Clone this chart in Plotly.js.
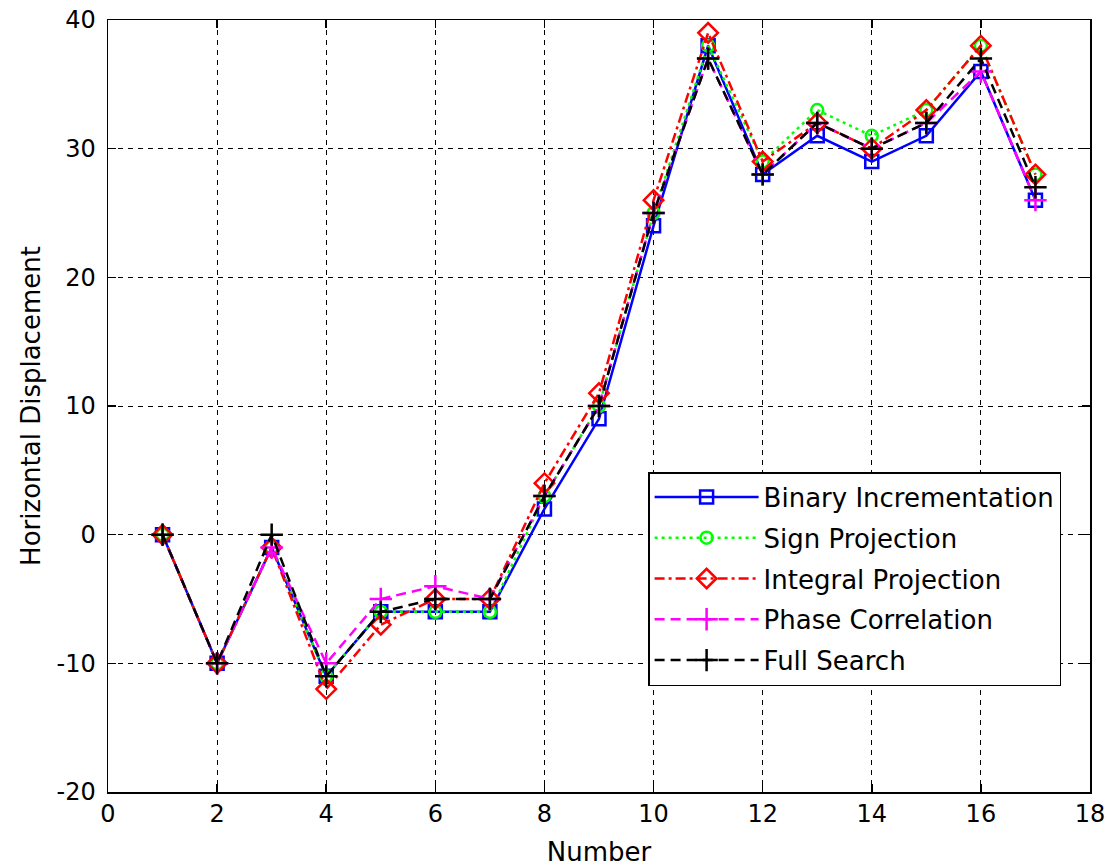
<!DOCTYPE html>
<html>
<head>
<meta charset="utf-8">
<script src="https://cdn.plot.ly/plotly-3.0.1.min.js"></script>
<style>
  html, body { margin: 0; padding: 0; background: #fff; }
  #chart { width: 1109px; height: 867px; }
</style>
</head>
<body>
<div id="chart"></div>
<script>
// Frame index of each measurement
const frameNumber = [1, 2, 3, 4, 5, 6, 7, 8, 9, 10, 11, 12, 13, 14, 15, 16, 17];

// Horizontal displacement estimated by each method
const binaryIncrementation = [0, -10, -1, -11, -6, -6, -6, 2, 9, 24, 38, 28, 31, 29, 31, 36, 26];
const signProjection       = [0, -10, -1, -11, -6, -6, -6, 3, 10, 25, 38, 29, 33, 31, 33, 38, 28];
const integralProjection   = [0, -10, -1, -12, -7, -5, -5, 4, 11, 26, 39, 29, 32, 30, 33, 38, 28];
const phaseCorrelation     = [0, -10, -1, -10, -5, -4, -5, 3, 10, 25, 37, 28, 32, 30, 32, 36, 26];
const fullSearch           = [0, -10, 0, -11, -6, -5, -5, 3, 10, 25, 37, 28, 32, 30, 32, 37, 27];

const seriesNames = ['Binary Incrementation', 'Sign Projection', 'Integral Projection', 'Phase Correlation', 'Full Search'];

// Axis ticks (plain hyphen for negatives)
const xTickValues = [0, 2, 4, 6, 8, 10, 12, 14, 16, 18];
const xTickLabels = ['0', '2', '4', '6', '8', '10', '12', '14', '16', '18'];
const yTickValues = [-20, -10, 0, 10, 20, 30, 40];
const yTickLabels = ['-20', '-10', '0', '10', '20', '30', '40'];

const FONT = 'DejaVu Sans, Arial, sans-serif';

function series(name, y, color, dash, symbol, size, group) {
  return {
    type: 'scatter',
    mode: 'lines+markers',
    name: name,
    x: frameNumber,
    y: y,
    legendgroup: group,
    line: { color: color, width: 2.5, dash: dash },
    marker: { symbol: symbol, size: size, color: color, line: { color: color, width: 2.5 } }
  };
}

const traces = [
  series(seriesNames[0], binaryIncrementation, '#0000ff', 'solid', 'square-open', 13, 'a'),
  series(seriesNames[1], signProjection, '#00ff00', '3px,4px', 'circle-open', 12, 'b'),
  series(seriesNames[2], integralProjection, '#ff0000', '10px,4px,3px,4px', 'diamond-open', 15, 'c'),
  series(seriesNames[3], phaseCorrelation, '#ff00ff', '10px,6px', 'cross-thin-open', 16, 'd'),
  series(seriesNames[4], fullSearch, '#000000', '10px,6px', 'cross-thin-open', 16, 'e')
];

const axisCommon = {
  showgrid: true,
  gridcolor: '#000000',
  gridwidth: 1,
  griddash: '5px,5px',
  showline: true,
  linecolor: '#000000',
  linewidth: 1.5,
  mirror: 'ticks',
  ticks: 'inside',
  ticklen: 8,
  tickwidth: 1.5,
  tickcolor: '#000000',
  zeroline: false,
  tickmode: 'array',
  tickfont: { family: FONT, size: 24, color: '#000000' }
};

const layout = {
  width: 1109,
  height: 867,
  margin: { l: 108, r: 19, t: 20, b: 75 },
  paper_bgcolor: '#ffffff',
  plot_bgcolor: '#ffffff',
  font: { family: FONT, color: '#000000' },
  showlegend: true,
  xaxis: Object.assign({}, axisCommon, {
    range: [0, 18],
    tickvals: xTickValues,
    ticktext: xTickLabels,
    title: { text: 'Number', font: { family: FONT, size: 26, color: '#000000' }, standoff: 16 }
  }),
  yaxis: Object.assign({}, axisCommon, {
    range: [-20, 40],
    tickvals: yTickValues,
    ticktext: yTickLabels,
    ticklabelstandoff: 6,
    title: { text: 'Horizontal Displacement', font: { family: FONT, size: 26, color: '#000000' }, standoff: 8 }
  }),
  legend: {
    x: 0.55,
    y: 0.4145,
    xanchor: 'left',
    yanchor: 'top',
    bgcolor: '#ffffff',
    bordercolor: '#000000',
    borderwidth: 1.5,
    traceorder: 'grouped',
    tracegroupgap: 4,
    itemwidth: 104,
    font: { family: FONT, size: 26, color: '#000000' }
  }
};

Plotly.newPlot('chart', traces, layout, { displayModeBar: false, staticPlot: true });
</script>
</body>
</html>
